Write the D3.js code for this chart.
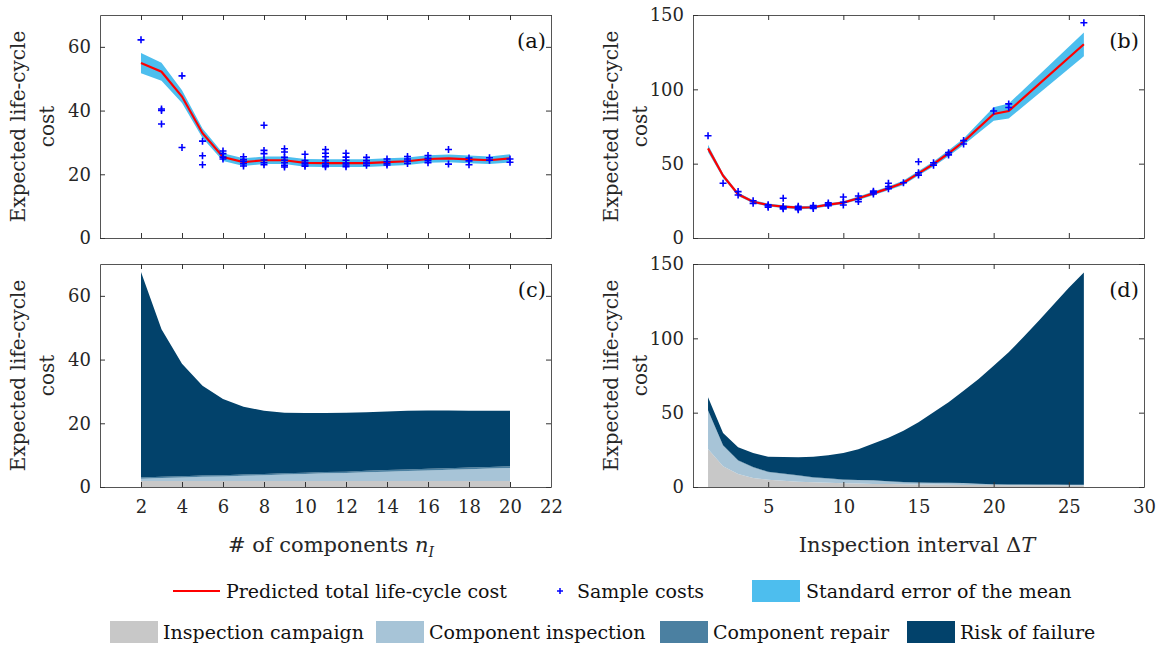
<!DOCTYPE html>
<html>
<head>
<meta charset="utf-8">
<script src="https://cdn.jsdelivr.net/npm/d3@7"></script>
<style>
  body { margin: 0; background: #fff; }
  svg text { font-family: "DejaVu Serif", serif; }
</style>
</head>
<body>
<script>
//number of inspected components (panels a and c)
var nComp = [2,3,4,5,6,7,8,9,10,11,12,13,14,15,16,17,18,19,20];
var meanA = [54.9,52.2,44.4,32.9,25.4,23.8,24.4,24.4,23.6,23.5,23.5,23.5,23.8,24.1,24.8,25.0,24.7,24.4,25.0];
var semA  = [3.2,2.8,2.0,1.5,1.2,1.2,1.2,1.2,1.2,1.2,1.2,1.2,1.2,1.2,1.2,1.2,1.2,1.2,1.3];
//sample costs for each n
var samplesA = [
  [2,[62.2]],
  [3,[40.5,40.0,35.8]],
  [4,[50.9,28.4]],
  [5,[30.4,25.8,23.0]],
  [6,[27.3,26.5,25.4,24.8]],
  [7,[25.5,24.6,24.0,23.3,22.6]],
  [8,[35.4,27.5,26.5,24.5,23.6,23.0]],
  [9,[28.0,27.0,25.3,24.4,23.6,22.8,22.3]],
  [10,[26.3,24.3,23.5,22.9,22.5]],
  [11,[27.8,26.6,25.5,24.3,23.4,22.8,22.4]],
  [12,[26.6,25.4,24.4,23.5,22.9,22.4]],
  [13,[25.3,24.3,23.5,22.8]],
  [14,[24.8,24.0,23.4,22.9]],
  [15,[25.6,24.8,24.1,23.4]],
  [16,[25.9,25.0,24.3,23.6]],
  [17,[27.8,23.2]],
  [18,[25.1,24.2,23.0]],
  [19,[25.2,24.4]],
  [20,[24.8,23.8]]
];
//cost breakdown (panel c)
var campaignC = [1.9,1.9,1.9,1.9,1.9,1.9,1.9,1.9,1.9,1.9,1.9,1.9,1.9,1.9,1.9,1.9,1.9,1.9,1.9];
var inspectC  = [0.7,0.9,1.1,1.3,1.4,1.6,1.8,2.0,2.2,2.4,2.5,2.7,2.9,3.1,3.3,3.5,3.7,3.9,4.1];
var repairC   = [0.4,0.4,0.4,0.4,0.4,0.4,0.4,0.4,0.4,0.4,0.4,0.5,0.5,0.5,0.5,0.5,0.5,0.5,0.5];
var riskC     = [64.5,46.3,35.3,28.2,23.9,21.3,19.8,19.0,18.7,18.5,18.5,18.4,18.4,18.4,18.3,18.1,17.8,17.6,17.4];

//inspection interval (panel b)
var intervalB = [1,2,3,4,5,6,7,8,9,10,11,12,13,14,15,16,17,18,20,21,26];
var meanB = [60.3,41.9,29.4,24.4,22.2,21.1,20.4,20.7,22.4,23.8,26.7,30.0,33.4,37.2,43.5,49.8,57.0,64.8,83.4,85.4,130.3];
var semB  = [2.5,1.5,1.2,1.0,1.0,1.0,1.0,1.0,1.0,1.0,1.2,1.2,1.3,1.5,1.5,1.7,2.0,2.2,4.5,5.0,8.0];
var samplesB = [
  [1,[68.8]],
  [2,[36.8]],
  [3,[31.2,28.9]],
  [4,[25.1,23.3]],
  [5,[22.4,21.5,20.7]],
  [6,[26.7,21.2,20.3,19.6]],
  [7,[21.3,20.5,19.6,19.0]],
  [8,[21.8,20.8,19.9]],
  [9,[23.6,22.6,21.8]],
  [10,[27.6,24.0,22.2]],
  [11,[28.3,26.1,24.5]],
  [12,[31.5,30.6,29.6]],
  [13,[36.8,34.6,33.2]],
  [14,[37.2]],
  [15,[51.3,43.9,42.3]],
  [16,[50.6,49.0]],
  [17,[57.4,55.9]],
  [18,[65.5,63.2]],
  [20,[85.4]],
  [21,[90.2,87.8]],
  [26,[144.8]]
];
//cost breakdown (panel d)
var intervalD = [1,2,3,4,5,6,7,8,9,10,11,12,13,14,15,16,17,18,19,20,21,22,23,24,25,26];
var campaignD = [25.6,13.9,8.7,6.1,4.9,4.2,3.6,3.2,2.9,2.6,2.3,2.1,2.0,1.8,1.7,1.6,1.5,1.4,1.4,1.3,1.2,1.2,1.1,1.1,1.0,1.0];
var inspectD  = [25.7,13.9,9.0,7.1,5.0,4.5,4.0,3.1,2.7,2.1,2.2,2.2,1.7,1.3,1.2,1.1,1.1,1.1,0.6,0.3,0.3,0.3,0.3,0.3,0.3,0.3];
var repairD   = [0.3,0.3,0.3,0.3,0.3,0.3,0.3,0.3,0.3,0.3,0.2,0.2,0.2,0.2,0.2,0.2,0.2,0.2,0.2,0.2,0.2,0.2,0.2,0.2,0.2,0.2];
var riskD     = [8.7,8.2,8.7,9.4,10.2,11.2,12.1,13.8,15.4,17.8,20.7,24.7,29.3,34.5,40.4,47.3,54.2,62.1,70.4,79.8,88.9,99.3,110.3,121.4,132.5,142.8];

var ticksNX = [2,4,6,8,10,12,14,16,18,20,22];
var ticksTX = [5,10,15,20,25,30];
var ticksAY = [0,20,40,60];
var ticksBY = [0,50,100,150];

var stackKeys = ["Inspection campaign","Component inspection","Component repair","Risk of failure"];
var stackColors = ["#c8c8c8","#a7c4d7","#4b80a1","#02426b"];

window.onload = draw();

function draw(){

    var width = 1173, height = 648;
    var axisCol = "#555";
    var serif = "DejaVu Serif";

    var svg = d3.select("body")
        .append("svg")
        .attr("width", width)
        .attr("height", height)
        .attr("font-family", serif);

    //build an empty axes box with matlab style inward ticks
    function makeAxes(box, xDom, yDom, xTicks, yTicks, showXLabels, letter){
        var x = d3.scaleLinear().domain(xDom).range([box.x0, box.x1]);
        var y = d3.scaleLinear().domain(yDom).range([box.y1, box.y0]);
        var g = svg.append("g");
        var layer = g.append("g");

        var bottom = g.append("g")
            .attr("transform", "translate(0," + box.y1 + ")")
            .call(d3.axisBottom(x).tickValues(xTicks).tickSizeInner(-5).tickSizeOuter(0).tickPadding(13));
        var top = g.append("g")
            .attr("transform", "translate(0," + box.y0 + ")")
            .call(d3.axisTop(x).tickValues(xTicks).tickSizeInner(-5).tickSizeOuter(0).tickFormat(""));
        var left = g.append("g")
            .attr("transform", "translate(" + box.x0 + ",0)")
            .call(d3.axisLeft(y).tickValues(yTicks).tickSizeInner(-5).tickSizeOuter(0).tickPadding(9));
        var right = g.append("g")
            .attr("transform", "translate(" + box.x1 + ",0)")
            .call(d3.axisRight(y).tickValues(yTicks).tickSizeInner(-5).tickSizeOuter(0).tickFormat(""));

        [bottom, top, left, right].forEach(function(a){
            a.attr("font-family", serif);
            a.selectAll("path").attr("stroke", axisCol);
            a.selectAll("line").attr("stroke", "#333");
            a.selectAll("text").attr("font-size", 18).attr("fill", "#262626");
        });
        if (!showXLabels) bottom.selectAll("text").remove();

        //y label on two lines
        var cy = (box.y0 + box.y1) / 2;
        g.append("text")
            .attr("transform", "translate(" + (box.x0 - 75) + "," + cy + ") rotate(-90)")
            .attr("text-anchor", "middle")
            .attr("font-size", 20)
            .attr("fill", "#262626")
            .text("Expected life-cycle");
        g.append("text")
            .attr("transform", "translate(" + (box.x0 - 46) + "," + cy + ") rotate(-90)")
            .attr("text-anchor", "middle")
            .attr("font-size", 20)
            .attr("fill", "#262626")
            .text("cost");

        g.append("text")
            .attr("x", box.x1 - 5)
            .attr("y", box.y0 + 33)
            .attr("text-anchor", "end")
            .attr("font-size", 21)
            .attr("fill", "#111")
            .text("(" + letter + ")");

        return {x: x, y: y, layer: layer};
    }

    //draw the predicted mean, standard error band and samples
    function drawPrediction(ax, xs, mean, sem, samples){
        var band = d3.area()
            .x(function(d, i){ return ax.x(xs[i]); })
            .y0(function(d, i){ return ax.y(mean[i] - sem[i]); })
            .y1(function(d, i){ return ax.y(mean[i] + sem[i]); });
        ax.layer.append("path")
            .datum(mean)
            .attr("d", band)
            .attr("fill", "#4dbeee");

        var line = d3.line()
            .x(function(d, i){ return ax.x(xs[i]); })
            .y(function(d){ return ax.y(d); });
        ax.layer.append("path")
            .datum(mean)
            .attr("d", line)
            .attr("fill", "none")
            .attr("stroke", "#ff0000")
            .attr("stroke-width", 2.2);

        var pts = [];
        samples.forEach(function(s){
            s[1].forEach(function(v){ pts.push([s[0], v]); });
        });
        ax.layer.selectAll(".plus")
            .data(pts)
            .enter()
            .append("path")
            .attr("class", "plus")
            .attr("d", function(d){
                var px = ax.x(d[0]), py = ax.y(d[1]);
                return "M" + (px - 3.5) + "," + py + "H" + (px + 3.5) + "M" + px + "," + (py - 3.5) + "V" + (py + 3.5);
            })
            .attr("stroke", "#0000ff")
            .attr("stroke-width", 1.6);
    }

    //stacked cost contributions
    function drawStack(ax, xs, layers){
        var rows = xs.map(function(v, i){
            var r = {x: v};
            stackKeys.forEach(function(k, j){ r[k] = layers[j][i]; });
            return r;
        });
        var series = d3.stack().keys(stackKeys)(rows);
        var area = d3.area()
            .x(function(d){ return ax.x(d.data.x); })
            .y0(function(d){ return ax.y(d[0]); })
            .y1(function(d){ return ax.y(d[1]); });
        ax.layer.selectAll(".layer")
            .data(series)
            .enter()
            .append("path")
            .attr("d", area)
            .attr("fill", function(d, i){ return stackColors[i]; });
    }

    var boxA = {x0: 100, x1: 551, y0: 15, y1: 238};
    var boxB = {x0: 693, x1: 1144, y0: 15, y1: 238};
    var boxC = {x0: 100, x1: 551, y0: 264, y1: 487};
    var boxD = {x0: 693, x1: 1144, y0: 264, y1: 487};

    var axA = makeAxes(boxA, [0,22], [0,70], ticksNX, ticksAY, false, "a");
    drawPrediction(axA, nComp, meanA, semA, samplesA);

    var axB = makeAxes(boxB, [0,30], [0,150], ticksTX, ticksBY, false, "b");
    drawPrediction(axB, intervalB, meanB, semB, samplesB);

    var axC = makeAxes(boxC, [0,22], [0,70], ticksNX, ticksAY, true, "c");
    drawStack(axC, nComp, [campaignC, inspectC, repairC, riskC]);

    var axD = makeAxes(boxD, [0,30], [0,150], ticksTX, ticksBY, true, "d");
    drawStack(axD, intervalD, [campaignD, inspectD, repairD, riskD]);

    //x labels
    var xl1 = svg.append("text")
        .attr("x", 331).attr("y", 552)
        .attr("text-anchor", "middle")
        .attr("font-size", 21)
        .attr("fill", "#262626");
    xl1.append("tspan").text("# of components ");
    xl1.append("tspan").attr("font-style", "italic").text("n");
    xl1.append("tspan").attr("font-style", "italic").attr("font-size", 14).attr("dy", 5).text("I");

    var xl2 = svg.append("text")
        .attr("x", 917).attr("y", 552)
        .attr("text-anchor", "middle")
        .attr("font-size", 21)
        .attr("fill", "#262626");
    xl2.append("tspan").text("Inspection interval \u0394");
    xl2.append("tspan").attr("font-style", "italic").text("T");

    //legend row 1
    var leg = svg.append("g").attr("font-size", 19).attr("fill", "#111");
    leg.append("line")
        .attr("x1", 173).attr("x2", 220).attr("y1", 591).attr("y2", 591)
        .attr("stroke", "#ff0000").attr("stroke-width", 2.2);
    leg.append("text").attr("x", 226).attr("y", 598).text("Predicted total life-cycle cost");
    leg.append("path")
        .attr("d", "M557,591H563M560,588V594")
        .attr("stroke", "#0000ff").attr("stroke-width", 1.5);
    leg.append("text").attr("x", 577).attr("y", 598).text("Sample costs");
    leg.append("rect")
        .attr("x", 752).attr("y", 580).attr("width", 48).attr("height", 22)
        .attr("fill", "#4dbeee");
    leg.append("text").attr("x", 806).attr("y", 598).text("Standard error of the mean");

    //legend row 2
    var legX = [110, 376, 660, 907];
    stackKeys.forEach(function(k, i){
        leg.append("rect")
            .attr("x", legX[i]).attr("y", 621).attr("width", 48).attr("height", 22)
            .attr("fill", stackColors[i]);
        leg.append("text")
            .attr("x", legX[i] + 53).attr("y", 639)
            .text(k);
    });
};
</script>
</body>
</html>
